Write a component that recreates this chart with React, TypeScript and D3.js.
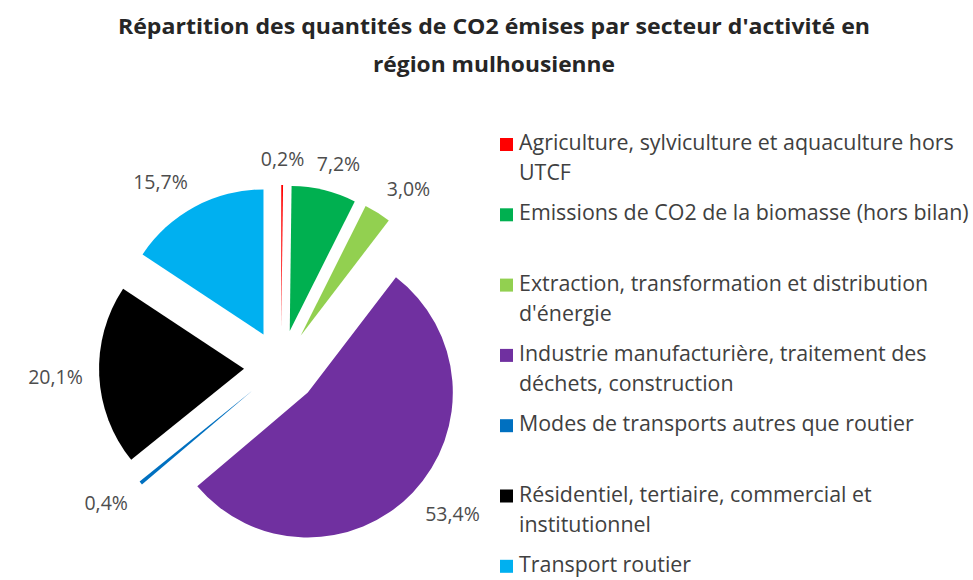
import React, { useLayoutEffect, useRef, useState } from "react";
import * as d3 from "d3";

const titleLines = [
  "Répartition des quantités de CO2 émises par secteur d'activité en",
  "région mulhousienne",
];

const categories = [
  "Agriculture, sylviculture et aquaculture hors UTCF",
  "Emissions de CO2 de la biomasse (hors bilan)",
  "Extraction, transformation et distribution d'énergie",
  "Industrie manufacturière, traitement des déchets, construction",
  "Modes de transports autres que routier",
  "Résidentiel, tertiaire, commercial et institutionnel",
  "Transport routier",
];

const legendLines = [
  ["Agriculture, sylviculture et aquaculture hors", "UTCF"],
  ["Emissions de CO2 de la biomasse (hors bilan)"],
  ["Extraction, transformation et distribution", "d'énergie"],
  ["Industrie manufacturière, traitement des", "déchets, construction"],
  ["Modes de transports autres que routier"],
  ["Résidentiel, tertiaire, commercial et", "institutionnel"],
  ["Transport routier"],
];

const values = [0.2, 7.2, 3.0, 53.4, 0.4, 20.1, 15.7];

const colors = ["#FF0000", "#00B050", "#92D050", "#7030A0", "#0070C0", "#000000", "#00B0F0"];

const W = 973;
const H = 580;
const CX = 281;
const CY = 367;
const R = 145;
const EXPLODE = 37;
const LABEL_GAP = 15;
const FONT = "'Open Sans', 'Noto Sans', sans-serif";

const fmt = (v: number) => d3.format(".1f")(v).replace(".", ",") + "%";

export default function App() {
  const measureRef = useRef<SVGTextElement | null>(null);
  const [legendSize, setLegendSize] = useState(18.5);

  useLayoutEffect(() => {
    const el = measureRef.current;
    if (!el) return;
    const w = el.getComputedTextLength();
    if (w > 0) {
      const target = 450;
      const ns = (18.5 * target) / w;
      if (Math.abs(ns - legendSize) > 0.05) setLegendSize(ns);
    }
  }, []);

  const pie = d3
    .pie<number>()
    .sort(null)
    .value((d) => d)
    .startAngle(0)
    .endAngle(2 * Math.PI);
  const arcs = pie(values);
  const arc = d3.arc<d3.PieArcDatum<number>>().innerRadius(0).outerRadius(R);

  const legendY = d3.scaleLinear().domain([0, 1]).range([150, 150 + 70.3]);

  const clamp = (x: number) => Math.max(-1, Math.min(1, x));

  return (
    <svg
      width={W}
      height={H}
      style={{ position: "absolute", left: 0, top: 0, background: "#fff" }}
    >
      <rect x={0} y={0} width={W} height={H} fill="#fff" />
      {/* title */}
      <text
        x={494}
        y={34}
        textAnchor="middle"
        fontFamily={FONT}
        fontWeight="bold"
        fontSize={21.5}
        fill="#262626"
        textLength={752}
        lengthAdjust="spacingAndGlyphs"
      >
        {titleLines[0]}
      </text>
      <text
        x={494}
        y={72}
        textAnchor="middle"
        fontFamily={FONT}
        fontWeight="bold"
        fontSize={21.5}
        fill="#262626"
        textLength={242}
        lengthAdjust="spacingAndGlyphs"
      >
        {titleLines[1]}
      </text>

      {/* pie */}
      {arcs.map((a, i) => {
        const mid = (a.startAngle + a.endAngle) / 2;
        const dx = Math.sin(mid);
        const dy = -Math.cos(mid);
        const ax = CX + EXPLODE * dx;
        const ay = CY + EXPLODE * dy;
        return (
          <path
            key={"s" + i}
            d={arc(a) || ""}
            transform={`translate(${ax},${ay})`}
            fill={colors[i]}
          />
        );
      })}

      {/* labels */}
      {arcs.map((a, i) => {
        const mid = (a.startAngle + a.endAngle) / 2;
        const dx = Math.sin(mid);
        const dy = -Math.cos(mid);
        const ax = CX + EXPLODE * dx;
        const ay = CY + EXPLODE * dy;
        const label = fmt(values[i]);
        const hw = (label.length * 11.5) / 2;
        const hh = 11;
        const px = ax + (R + LABEL_GAP) * dx + hw * clamp(dx * 2);
        const py = ay + (R + LABEL_GAP) * dy + hh * clamp(dy * 2);
        return (
          <text
            key={"l" + i}
            x={px}
            y={py}
            dy="0.35em"
            textAnchor="middle"
            fontFamily={FONT}
            fontSize={19.5}
            fill="#4d4d4d"
          >
            {label}
          </text>
        );
      })}

      {/* legend */}
      {legendLines.map((lines, i) => {
        const by = legendY(i);
        return (
          <g key={"g" + i}>
            <title>{categories[i]}</title>
            <rect x={500} y={by - 12} width={13} height={13} fill={colors[i]} />
            {lines.map((ln, j) => (
              <text
                key={j}
                x={519}
                y={by + j * 30}
                fontFamily={FONT}
                fontSize={legendSize}
                fill="#404040"
              >
                {ln}
              </text>
            ))}
          </g>
        );
      })}
      <text
        ref={measureRef}
        x={-2000}
        y={-2000}
        fontFamily={FONT}
        fontSize={18.5}
        visibility="hidden"
      >
        {legendLines[1][0]}
      </text>
    </svg>
  );
}
